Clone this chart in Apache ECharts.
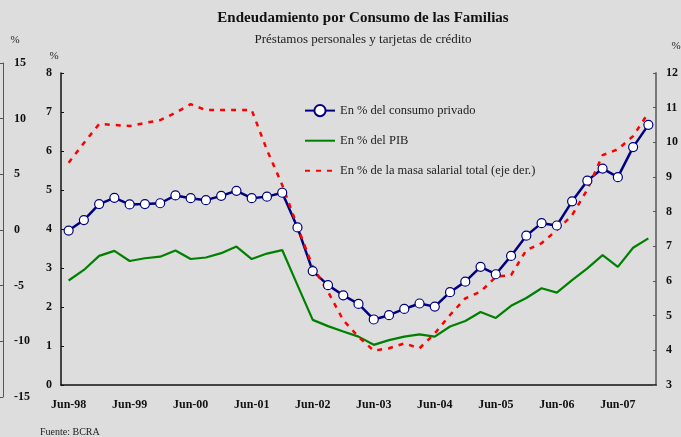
<!DOCTYPE html>
<html>
<head>
<meta charset="utf-8">
<script src="https://cdn.jsdelivr.net/npm/echarts@6/dist/echarts.min.js"></script>
<style>
  html, body { margin: 0; padding: 0; background: #dddddd; }
  #chart { width: 681px; height: 437px; }
</style>
</head>
<body>
<div id="chart"></div>
<script>
// trimestres, jun-98 a dic-07
const quarters = [
  'Jun-98', 'Sep-98', 'Dic-98', 'Mar-99', 'Jun-99', 'Sep-99', 'Dic-99', 'Mar-00',
  'Jun-00', 'Sep-00', 'Dic-00', 'Mar-01', 'Jun-01', 'Sep-01', 'Dic-01', 'Mar-02',
  'Jun-02', 'Sep-02', 'Dic-02', 'Mar-03', 'Jun-03', 'Sep-03', 'Dic-03', 'Mar-04',
  'Jun-04', 'Sep-04', 'Dic-04', 'Mar-05', 'Jun-05', 'Sep-05', 'Dic-05', 'Mar-06',
  'Jun-06', 'Sep-06', 'Dic-06', 'Mar-07', 'Jun-07', 'Sep-07', 'Dic-07'
];

// En % del consumo privado (eje izq.)
const consumoPrivado = [
  3.96, 4.23, 4.64, 4.80, 4.63, 4.64, 4.66, 4.86, 4.79, 4.74, 4.85, 4.98, 4.79,
  4.83, 4.93, 4.04, 2.92, 2.56, 2.30, 2.08, 1.68, 1.79, 1.95, 2.09, 2.01, 2.38,
  2.65, 3.03, 2.84, 3.31, 3.83, 4.15, 4.09, 4.71, 5.24, 5.55, 5.33, 6.10, 6.67
];

// En % del PIB (eje izq.)
const pib = [
  2.68, 2.95, 3.31, 3.44, 3.18, 3.25, 3.29, 3.45, 3.23, 3.27, 3.38, 3.55, 3.23,
  3.37, 3.46, 2.56, 1.67, 1.51, 1.37, 1.24, 1.03, 1.15, 1.24, 1.30, 1.24, 1.50,
  1.64, 1.87, 1.72, 2.03, 2.23, 2.48, 2.37, 2.69, 2.99, 3.33, 3.03, 3.52, 3.76
];

// En % de la masa salarial total (eje der.)
const masaSalarial = [
  9.41, 9.98, 10.53, 10.50, 10.47, 10.56, 10.64, 10.85, 11.10, 10.93, 10.93, 10.93, 10.93,
  9.78, 8.77, 7.57, 6.41, 5.69, 4.87, 4.39, 3.99, 4.06, 4.20, 4.06, 4.49, 5.02,
  5.50, 5.69, 6.12, 6.17, 6.89, 7.09, 7.47, 7.90, 8.64, 9.63, 9.80, 10.18, 10.85
];

const seriesNames = [
  'En % del consumo privado',
  'En % del PIB',
  'En % de la masa salarial total (eje der.)'
];

const serif = '"Liberation Serif", "DejaVu Serif", serif';
const chart = echarts.init(document.getElementById('chart'));

const tickLabel = { color: '#111', fontFamily: serif, fontSize: 12, fontWeight: 'bold' };

const option = {
  backgroundColor: '#dddddd',
  animation: false,
  grid: [
    { left: 61, right: 19, top: 73, bottom: 52 },
    // eje suelto de la izquierda (-15 a 15)
    { left: 3, width: 1, top: 63, bottom: 40 }
  ],
  legend: {
    orient: 'vertical',
    left: 299,
    top: 99,
    itemWidth: 30,
    itemHeight: 14,
    itemGap: 17,
    textStyle: { fontFamily: serif, fontSize: 12.5, color: '#222' },
    data: [
      { name: seriesNames[0] },
      // sin marcador en la leyenda para las dos líneas simples
      { name: seriesNames[1], itemStyle: { opacity: 0 } },
      { name: seriesNames[2], itemStyle: { opacity: 0 } }
    ]
  },
  xAxis: [
    {
      type: 'category',
      gridIndex: 0,
      data: quarters,
      boundaryGap: true,
      axisLine: { lineStyle: { color: '#111', width: 1.5 } },
      axisTick: { inside: true, length: 3, interval: 3, lineStyle: { color: '#111' } },
      axisLabel: Object.assign({ interval: 3, margin: 14 }, tickLabel),
      splitLine: { show: false }
    },
    { type: 'value', gridIndex: 1, show: false }
  ],
  yAxis: [
    {
      type: 'value',
      gridIndex: 0,
      position: 'left',
      min: 0,
      max: 8,
      interval: 1,
      axisLine: { show: true, lineStyle: { color: '#111', width: 1.5 } },
      axisTick: { show: true, inside: true, length: 3, lineStyle: { color: '#111' } },
      axisLabel: Object.assign({ margin: 9 }, tickLabel),
      splitLine: { show: false }
    },
    {
      type: 'value',
      gridIndex: 0,
      position: 'right',
      min: 3,
      max: 12,
      interval: 1,
      axisLine: { show: true, lineStyle: { color: '#777', width: 2 } },
      axisTick: { show: true, inside: true, length: 3, lineStyle: { color: '#555' } },
      axisLabel: Object.assign({ margin: 10 }, tickLabel),
      splitLine: { show: false }
    },
    {
      type: 'value',
      gridIndex: 1,
      position: 'left',
      min: -15,
      max: 15,
      interval: 5,
      axisLine: { show: true, lineStyle: { color: '#555', width: 1 } },
      axisTick: { show: true, length: 3, lineStyle: { color: '#555' } },
      axisLabel: Object.assign({ inside: true, margin: 11, align: 'left' }, tickLabel),
      splitLine: { show: false }
    }
  ],
  series: [
    {
      name: seriesNames[0],
      type: 'line',
      xAxisIndex: 0,
      yAxisIndex: 0,
      data: consumoPrivado,
      symbol: 'circle',
      symbolSize: 9,
      showAllSymbol: true,
      color: '#000080',
      lineStyle: { color: '#000080', width: 2.5 },
      itemStyle: { color: '#ffffff', borderColor: '#000080', borderWidth: 1.2 }
    },
    {
      name: seriesNames[1],
      type: 'line',
      xAxisIndex: 0,
      yAxisIndex: 0,
      data: pib,
      symbol: 'none',
      color: '#008000',
      lineStyle: { color: '#008000', width: 2.2 }
    },
    {
      name: seriesNames[2],
      type: 'line',
      xAxisIndex: 0,
      yAxisIndex: 1,
      data: masaSalarial,
      symbol: 'none',
      color: '#ff0000',
      lineStyle: { color: '#ff0000', width: 2.5, type: [5, 6] },
      z: 3
    }
  ],
  graphic: [
    {
      type: 'text', x: 363, y: 18,
      style: { text: 'Endeudamiento por Consumo de las Familias', font: 'bold 15px ' + serif,
        fill: '#111', align: 'center', verticalAlign: 'middle' }
    },
    {
      type: 'text', x: 363, y: 40,
      style: { text: 'Préstamos personales y tarjetas de crédito', font: '13px ' + serif,
        fill: '#222', align: 'center', verticalAlign: 'middle' }
    },
    { type: 'text', x: 15, y: 40, style: { text: '%', font: '11px ' + serif, fill: '#222', align: 'center', verticalAlign: 'middle' } },
    { type: 'text', x: 54, y: 56, style: { text: '%', font: '11px ' + serif, fill: '#222', align: 'center', verticalAlign: 'middle' } },
    { type: 'text', x: 676, y: 46, style: { text: '%', font: '11px ' + serif, fill: '#222', align: 'center', verticalAlign: 'middle' } },
    {
      type: 'text', x: 40, y: 432,
      style: { text: 'Fuente: BCRA', font: '10px ' + serif, fill: '#222', align: 'left', verticalAlign: 'middle' }
    }
  ]
};

chart.setOption(option);
</script>
</body>
</html>
